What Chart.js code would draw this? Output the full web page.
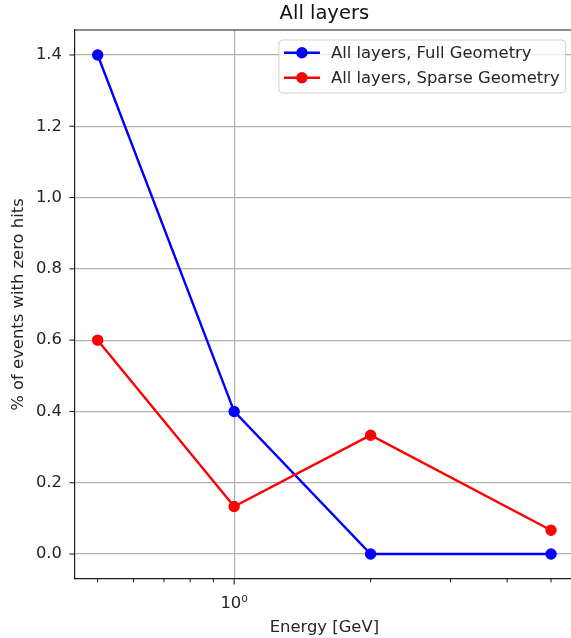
<!DOCTYPE html>
<html><head><meta charset="utf-8">
<script src="https://cdn.jsdelivr.net/npm/chart.js@4/dist/chart.umd.min.js"></script>
<style>
html,body{margin:0;padding:0;overflow:hidden;background:#fff;width:571px;height:638px}
#wrap{position:relative;width:580px;height:638px}
canvas{display:block}
</style></head>
<body><div id="wrap"><canvas id="c" width="580" height="638"></canvas></div>
<script>
// ---- data ----
const energies = [0.5, 1, 2, 5];
const fullGeometry = [1.4, 0.4, 0.0, 0.0];
const sparseGeometry = [0.6, 0.1333, 0.3333, 0.0667];
const seriesLabels = ['All layers, Full Geometry', 'All layers, Sparse Geometry'];
const seriesColors = ['#0000ff', '#ff0000'];
const yTicks = [0, 0.2, 0.4, 0.6, 0.8, 1.0, 1.2, 1.4];
const xMajorTicks = [1];
const xMajorLabels = ['10⁰'];
const xMinorTicks = [0.5, 0.6, 0.7, 0.8, 0.9, 2, 3, 4, 5];
const titleText = 'All layers';
const xTitle = 'Energy [GeV]';
const yTitle = '% of events with zero hits';
const xRange = [0.4456, 5.61];
const yRange = [-0.07, 1.47];

const FONT = '"DejaVu Sans", sans-serif';
const TXT = '#262626';
Chart.defaults.font.family = FONT;

const series = [fullGeometry, sparseGeometry];

const decor = {
  id: 'decor',
  afterDraw(chart) {
    const ctx = chart.ctx, a = chart.chartArea;
    const xs = chart.scales.x, ys = chart.scales.y;
    ctx.save();
    // top spine
    ctx.strokeStyle = '#1a1a1a'; ctx.lineWidth = 1.2;
    ctx.beginPath(); ctx.moveTo(a.left, a.top); ctx.lineTo(a.right + 10, a.top); ctx.stroke();
    // tick marks
    ctx.strokeStyle = '#222'; ctx.lineWidth = 1.1;
    const tick = (x1, y1, x2, y2) => { ctx.beginPath(); ctx.moveTo(x1, y1); ctx.lineTo(x2, y2); ctx.stroke(); };
    xMajorTicks.forEach(v => { const p = xs.getPixelForValue(v); tick(p, a.bottom, p, a.bottom + 5.5); });
    xMinorTicks.forEach(v => { const p = xs.getPixelForValue(v); tick(p, a.bottom, p, a.bottom + 3.3); });
    yTicks.forEach(v => { const p = ys.getPixelForValue(v); tick(a.left - 5.5, p, a.left, p); });
    // title
    ctx.fillStyle = '#111'; ctx.font = '19.5px ' + FONT;
    ctx.textAlign = 'center'; ctx.textBaseline = 'middle';
    ctx.fillText(titleText, (a.left + a.right) / 2, 14);
    // legend
    ctx.font = '16.4px ' + FONT;
    let maxW = 0;
    chart.data.datasets.forEach(d => { maxW = Math.max(maxW, ctx.measureText(d.label).width); });
    const bw = 52 + maxW + 6, bh = 53;
    const bx = a.right - 8 - bw, by = a.top + 10;
    ctx.fillStyle = 'rgba(255,255,255,0.8)';
    ctx.strokeStyle = 'rgba(204,204,204,0.9)'; ctx.lineWidth = 1;
    ctx.beginPath();
    if (ctx.roundRect) ctx.roundRect(bx, by, bw, bh, 4); else ctx.rect(bx, by, bw, bh);
    ctx.fill(); ctx.stroke();
    chart.data.datasets.forEach((d, i) => {
      const cy = by + 12.7 + i * 25;
      ctx.strokeStyle = d.borderColor; ctx.lineWidth = 2.4;
      ctx.beginPath(); ctx.moveTo(bx + 5, cy); ctx.lineTo(bx + 41, cy); ctx.stroke();
      ctx.fillStyle = d.borderColor;
      ctx.beginPath(); ctx.arc(bx + 23, cy, 5.7, 0, Math.PI * 2); ctx.fill();
      ctx.fillStyle = TXT; ctx.textAlign = 'left'; ctx.textBaseline = 'middle';
      ctx.fillText(d.label, bx + 52, cy + 1);
    });
    ctx.restore();
  }
};

new Chart(document.getElementById('c'), {
  type: 'line',
  data: {
    datasets: series.map((s, i) => ({
      label: seriesLabels[i],
      data: energies.map((x, j) => ({ x: x, y: s[j] })),
      borderColor: seriesColors[i],
      backgroundColor: seriesColors[i],
      pointBackgroundColor: seriesColors[i],
      pointBorderColor: seriesColors[i],
      borderWidth: 2.4,
      pointRadius: 5.1,
      pointBorderWidth: 1.2,
      tension: 0,
      fill: false,
      order: series.length - i
    }))
  },
  options: {
    responsive: false,
    animation: false,
    devicePixelRatio: 1,
    layout: { padding: { top: 30, left: 0, right: 4, bottom: 0 } },
    plugins: { legend: { display: false }, tooltip: { enabled: false }, title: { display: false } },
    scales: {
      x: {
        type: 'logarithmic', min: xRange[0], max: xRange[1],
        afterBuildTicks: s => {
          s.ticks = [...xMinorTicks, ...xMajorTicks].sort((a, b) => a - b).map(v => ({ value: v }));
        },
        ticks: {
          autoSkip: false, maxRotation: 0, padding: 15, color: TXT, font: { size: 16.4 },
          callback: v => { const k = xMajorTicks.indexOf(v); return k >= 0 ? xMajorLabels[k] : ''; }
        },
        grid: {
          color: c => (c.tick && xMajorTicks.includes(c.tick.value)) ? '#b0b0b0' : 'rgba(0,0,0,0)',
          lineWidth: 1.2, drawTicks: false
        },
        border: { display: true, color: '#1a1a1a', width: 1.2 },
        title: { display: true, text: xTitle, color: TXT, font: { size: 16.4 }, padding: { top: 0, bottom: 0 } },
        afterFit: s => { s.height = 59; }
      },
      y: {
        type: 'linear', min: yRange[0], max: yRange[1],
        afterBuildTicks: s => { s.ticks = yTicks.map(v => ({ value: v })); },
        ticks: { padding: 13, color: TXT, font: { size: 16.4 }, callback: v => Number(v).toFixed(1) },
        grid: { color: '#b0b0b0', lineWidth: 1.2, drawTicks: false },
        border: { display: true, color: '#1a1a1a', width: 1.2 },
        title: { display: true, text: yTitle, color: TXT, font: { size: 16.4 }, padding: { top: 9, bottom: 0 } },
        afterFit: s => { s.width = 75; }
      }
    }
  },
  plugins: [decor]
});
</script>
</body></html>
